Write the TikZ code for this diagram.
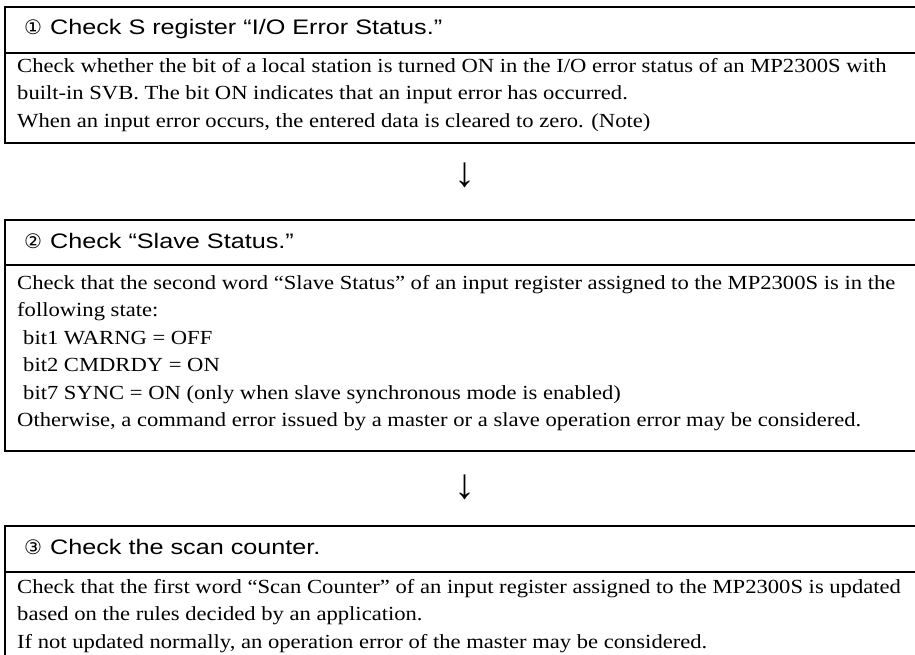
\documentclass[tikz,border=0pt]{standalone}
\usepackage{fontspec}
\setmainfont{Liberation Serif}
\newfontfamily\bodyfont{Liberation Serif}[FakeStretch=1.13]
\newfontfamily\titlefont{Liberation Sans}[FakeStretch=1.2]
\newfontfamily\symfont{DejaVu Sans}
\newcommand\bodysize{\fontsize{20}{27.5}\selectfont}
\newcommand\firststrut{\rule{0pt}{15pt}}
\newcommand\circnum[1]{{\symfont\fontsize{20}{20}\selectfont #1}\hspace{1pt}}
\tikzset{
  rule/.style={line width=1.7pt, line cap=rect},
  titletext/.style={anchor=base west, inner sep=0pt, font=\titlefont\fontsize{21}{21}\selectfont},
  bodytext/.style={anchor=north west, inner sep=0pt, align=left, font=\bodyfont\bodysize},
  arrowtext/.style={anchor=center, inner sep=0pt, font=\fontsize{42}{42}\selectfont}
}
\begin{document}
\begin{tikzpicture}[x=1pt,y=-1pt]
\useasboundingbox (0,0) rectangle (915,654);
% box 1
\draw[rule] (920,7) -| (5,143) -- (920,143);
\draw[rule] (5,53) -- (920,53);
\node[titletext] (t1) at (24,34) {\circnum{①} Check S register “I/O Error Status.”};
\node[bodytext] (b1) at (17,72-15) {\firststrut Check whether the bit of a local station is turned ON in the I/O error status of an MP2300S with\\
built-in SVB. The bit ON indicates that an input error has occurred.\\
When an input error occurs, the entered data is cleared to zero. (Note)};
% arrow 1
\node[arrowtext] (a1) at (465,175) {↓};
% box 2
\draw[rule] (920,220) -| (5,451) -- (920,451);
\draw[rule] (5,265) -- (920,265);
\node[titletext] (t2) at (24,248) {\circnum{②} Check “Slave Status.”};
\node[bodytext] (b2) at (17,289-15) {\firststrut Check that the second word “Slave Status” of an input register assigned to the MP2300S is in the\\
following state:\\
\hspace{6pt}bit1 WARNG = OFF\\
\hspace{6pt}bit2 CMDRDY = ON\\
\hspace{6pt}bit7 SYNC = ON (only when slave synchronous mode is enabled)\\
Otherwise, a command error issued by a master or a slave operation error may be considered.};
% arrow 2
\node[arrowtext] (a2) at (465,487) {↓};
% box 3
\draw[rule] (920,526) -| (5,660);
\draw[rule] (5,572) -- (920,572);
\node[titletext] (t3) at (24,554) {\circnum{③} Check the scan counter.};
\node[bodytext] (b3) at (17,593-15) {\firststrut Check that the first word “Scan Counter” of an input register assigned to the MP2300S is updated\\
based on the rules decided by an application.\\
If not updated normally, an operation error of the master may be considered.};
\end{tikzpicture}
\end{document}
